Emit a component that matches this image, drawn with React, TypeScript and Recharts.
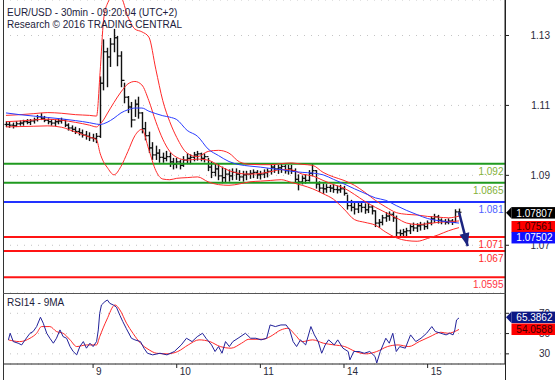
import React from "react";
import {
  ComposedChart,
  Bar,
  Line,
  XAxis,
  YAxis,
  CartesianGrid,
  ReferenceLine,
  ReferenceDot,
} from "recharts";

const FONT = "'Liberation Sans', Arial, sans-serif";

// time axis: hours since Mar 8 00:00, weekend removed
const T_DOMAIN: [number, number] = [-1.85, 142.2];
const dayStarts = [24, 48, 72, 96, 120];
const dayLabels = ["9", "10", "11", "14", "15"];

// hourly EUR/USD bars, first bar at t = -1
const firstHour = -1;
const highs = [
  1.104, 1.1038, 1.1036, 1.104, 1.1042, 1.1044, 1.1046, 1.1046, 1.105, 1.1058,
  1.1063, 1.1055, 1.1048, 1.1046, 1.1045, 1.1048, 1.105, 1.1046, 1.1034, 1.1028,
  1.1024, 1.102, 1.1016, 1.1012, 1.1008, 1.1004, 1.1006, 1.1168, 1.1274, 1.125,
  1.1278, 1.1304, 1.1284, 1.124, 1.115, 1.1112, 1.1095, 1.1102, 1.111, 1.1066,
  1.1038, 1.101, 1.098, 1.097, 1.096, 1.095, 1.0955, 1.095, 1.0935, 1.0935,
  1.093, 1.094, 1.0948, 1.0945, 1.0952, 1.0955, 1.095, 1.0948, 1.0935, 1.0925,
  1.092, 1.0918, 1.091, 1.0905, 1.0902, 1.0905, 1.0905, 1.09, 1.0898, 1.0898,
  1.09, 1.0902, 1.09, 1.0898, 1.0902, 1.0905, 1.0917, 1.092, 1.0915, 1.0918,
  1.0916, 1.0915, 1.0915, 1.0905, 1.0888, 1.0885, 1.0888, 1.09, 1.092, 1.09,
  1.0868, 1.0862, 1.086, 1.0858, 1.086, 1.0856, 1.0858, 1.0855, 1.083, 1.0815,
  1.0808, 1.081, 1.0808, 1.0805, 1.0806, 1.08, 1.0785, 1.076, 1.0772, 1.078,
  1.0782, 1.078, 1.077, 1.073, 1.0732, 1.0735, 1.0745, 1.075, 1.0748, 1.0752,
  1.075, 1.0756, 1.0768, 1.0775, 1.0772, 1.0762, 1.076, 1.0762, 1.076, 1.0788,
  1.079,
];
const lows = [
  1.1026, 1.1024, 1.1022, 1.1026, 1.103, 1.103, 1.1034, 1.1032, 1.1036, 1.1042,
  1.1046, 1.104, 1.1034, 1.103, 1.1028, 1.1034, 1.1036, 1.1026, 1.1016, 1.1012,
  1.1006, 1.1002, 1.0996, 1.099, 1.0986, 1.0984, 1.098, 1.0995, 1.1131, 1.114,
  1.1198, 1.124, 1.12, 1.114, 1.1094, 1.1066, 1.1025, 1.1055, 1.105, 1.1008,
  1.0988, 1.0952, 1.0932, 1.0932, 1.0924, 1.0924, 1.0928, 1.0912, 1.0905, 1.0908,
  1.0905, 1.0912, 1.092, 1.092, 1.0928, 1.093, 1.0928, 1.0925, 1.09, 1.088,
  1.0885, 1.0874, 1.0865, 1.0868, 1.087, 1.0874, 1.0875, 1.0872, 1.087, 1.0874,
  1.0878, 1.088, 1.0878, 1.0876, 1.088, 1.0882, 1.089, 1.0895, 1.0892, 1.0895,
  1.0893, 1.089, 1.0892, 1.0866, 1.0845, 1.0862, 1.0864, 1.087, 1.0885, 1.085,
  1.084, 1.0835, 1.0838, 1.084, 1.0838, 1.0836, 1.0838, 1.083, 1.079, 1.0785,
  1.0776, 1.078, 1.0782, 1.0778, 1.078, 1.0776, 1.074, 1.0738, 1.0745, 1.0755,
  1.0758, 1.0755, 1.0712, 1.071, 1.0712, 1.0714, 1.072, 1.0728, 1.0726, 1.073,
  1.0732, 1.0734, 1.0745, 1.0752, 1.075, 1.0748, 1.0747, 1.0748, 1.0746, 1.0752,
  1.077,
];
const closes = [
  1.1032, 1.103, 1.1028, 1.1034, 1.1036, 1.104, 1.1038, 1.1042, 1.1046, 1.1054,
  1.105, 1.1044, 1.104, 1.1036, 1.104, 1.1042, 1.1044, 1.103, 1.1022, 1.1018,
  1.1012, 1.1008, 1.1002, 1.0998, 1.0994, 1.0992, 1.0998, 1.115, 1.124, 1.1225,
  1.1262, 1.128, 1.1228, 1.1158, 1.111, 1.1082, 1.1045, 1.109, 1.1065, 1.102,
  1.1, 1.0965, 1.0945, 1.095, 1.0938, 1.0935, 1.094, 1.0925, 1.0918, 1.0925,
  1.0915, 1.093, 1.0935, 1.0938, 1.0945, 1.0948, 1.0935, 1.094, 1.091, 1.0895,
  1.0905, 1.0885, 1.088, 1.089, 1.0885, 1.0895, 1.089, 1.0882, 1.0888, 1.089,
  1.0892, 1.0895, 1.0888, 1.089, 1.0894, 1.0898, 1.091, 1.0905, 1.0908, 1.0912,
  1.09, 1.0905, 1.09, 1.0875, 1.0868, 1.0878, 1.0872, 1.0892, 1.09, 1.0862,
  1.085, 1.0848, 1.0852, 1.085, 1.0846, 1.0845, 1.0848, 1.0835, 1.08, 1.0795,
  1.079, 1.08, 1.0795, 1.0788, 1.0796, 1.0785, 1.075, 1.0752, 1.0765, 1.077,
  1.0775, 1.0765, 1.0722, 1.072, 1.0725, 1.0728, 1.074, 1.0736, 1.0742, 1.0745,
  1.074, 1.075, 1.0762, 1.0768, 1.0758, 1.0755, 1.0752, 1.0756, 1.0752, 1.0782,
  1.0781,
];

// Bollinger(20) and moving average, read at these hours
const indT = [
  -1, 3, 7, 11, 15, 19, 23, 25, 26, 27, 28, 30, 32, 34, 36, 38, 40, 42, 44, 46,
  48, 51, 54, 57, 60, 63, 66, 69, 72, 75, 78, 81, 84, 87, 90, 93, 96, 99, 102,
  105, 108, 111, 114, 117, 120, 123, 126, 129,
];
const bbUpper = [
  1.1058, 1.106, 1.1063, 1.1066, 1.1064, 1.106, 1.1058, 1.1056, 1.118, 1.133,
  1.1375, 1.14, 1.1395, 1.134, 1.1305, 1.1297, 1.1282, 1.119, 1.11, 1.104,
  1.0995, 1.095, 1.094, 1.0955, 1.0958, 1.095, 1.0925, 1.0918, 1.0917, 1.0917,
  1.092, 1.0922, 1.0918, 1.0915, 1.0895, 1.0882, 1.0872, 1.0858, 1.0838, 1.0815,
  1.0796, 1.078, 1.0775, 1.0773, 1.0769, 1.0767, 1.0765, 1.077,
];
const bbMid = [
  1.104, 1.1042, 1.1045, 1.1047, 1.1044, 1.1038, 1.103, 1.1025, 1.1033, 1.1045,
  1.1062, 1.1095, 1.1125, 1.1148, 1.1155, 1.1145, 1.11, 1.104, 1.099, 1.0955,
  1.0938, 1.093, 1.0933, 1.093, 1.0915, 1.09, 1.0892, 1.089, 1.0892, 1.0897,
  1.0903, 1.0902, 1.089, 1.0885, 1.0872, 1.086, 1.085, 1.0832, 1.0812, 1.0795,
  1.078, 1.0765, 1.075, 1.0746, 1.0748, 1.0752, 1.0754, 1.0756,
];
const bbLower = [
  1.1025, 1.1026, 1.1027, 1.1028, 1.1024, 1.101, 1.0996, 1.0988, 1.095, 1.0925,
  1.091, 1.0888, 1.0912, 1.0955, 1.1, 1.1018, 1.096, 1.09, 1.0876, 1.0874,
  1.0878, 1.088, 1.0882, 1.0868, 1.086, 1.0858, 1.0862, 1.0868, 1.087, 1.0872,
  1.0874, 1.0866, 1.0858, 1.0848, 1.0834, 1.0818, 1.079, 1.076, 1.0752, 1.0744,
  1.0724, 1.0708, 1.07, 1.0698, 1.0706, 1.0716, 1.0728, 1.0737,
];
const maLine = [
  1.1065, 1.106, 1.1056, 1.1052, 1.1048, 1.1043, 1.1037, 1.1033, 1.1032, 1.1034,
  1.1038, 1.105, 1.1065, 1.1074, 1.1079, 1.1079, 1.107, 1.1063, 1.1057, 1.1053,
  1.1046, 1.1015, 1.0998, 1.0962, 1.0943, 1.0926, 1.0917, 1.0913, 1.091, 1.0906,
  1.0903, 1.0898, 1.0895, 1.0893, 1.0888, 1.0875, 1.0862, 1.0848, 1.0835, 1.0822,
  1.0815, 1.08, 1.0786, 1.0774, 1.0763, 1.0757, 1.0753, 1.075,
];

// forecast arrow
const arrowT = [129, 131.5];
const arrowV = [1.0781, 1.0684];

// support / resistance levels
const levels = [1.092, 1.0865, 1.081, 1.071, 1.067, 1.0595];
const levelColors = ["#1f9a1f", "#1f9a1f", "#2233ff", "#ff1414", "#ff1414", "#ff1414"];
const levelTextColors = ["#84b13a", "#84b13a", "#4f62ff", "#ff2a2a", "#ff2a2a", "#ff3344"];

// last values shown on the price scale
const priceTagValues = [1.07807, 1.07561, 1.07502];
const priceTagLabels = ["1.07807", "1.07561", "1.07502"];

// RSI14 and its 9-period average
const rsiT = [
  -0.3, 0.2, 1.1, 2.5, 3.5, 4.5, 5.9, 6.8, 7.8, 8.9, 9.7, 10.7, 11.6, 12.6, 13.5,
  14.5, 15.4, 16.4, 17.4, 18.3, 19.3, 20.2, 21.2, 22.1, 23.1, 24, 25, 25.5, 25.9,
  26.4, 27.4, 28.1, 28.8, 29.8, 30.7, 31.7, 32.5, 33.5, 35, 36, 37.6, 38.6, 39.6,
  41.1, 43.2, 45.2, 47.3, 49.3, 50.8, 52.4, 53.9, 55.4, 56.4, 58, 59, 60, 61, 62,
  63.1, 64.1, 65.6, 67.7, 69.2, 70.7, 72.2, 73.8, 74.8, 76.3, 77.9, 79.4, 80.4,
  81.4, 82.4, 83.5, 85, 86.5, 87.5, 88.6, 89.6, 90.6, 91.6, 93.2, 94.2, 95.7,
  97.2, 97.7, 98.8, 100.3, 101.8, 103.4, 104.9, 105.4, 106.4, 108, 109, 110, 111,
  112, 113.6, 115.1, 116.6, 118.1, 119.7, 121.2, 122.2, 123.8, 125.3, 126.3,
  127.3, 127.8, 128.3, 129,
];
const rsiValues = [
  43.8, 50.3, 42.1, 40.5, 38.8, 43.8, 50.3, 52, 56.9, 66.1, 60.2, 50.3, 45.4,
  40.5, 45.4, 53.6, 47, 45.4, 37.2, 32.3, 29, 37.2, 42.1, 35.6, 40.5, 37.2, 42.1,
  53.6, 70, 78.2, 81.5, 83.1, 79.8, 78.2, 76, 68, 62, 55.2, 45.4, 43.8, 42.1,
  35.6, 30.6, 29, 30.6, 29, 32.3, 38.8, 45.4, 42.1, 47, 50.3, 45.4, 38.8, 32.3,
  37.2, 30.6, 42.1, 37.2, 42.1, 45.4, 50.3, 45.4, 45.4, 43.8, 45.4, 58.5, 56.9,
  58.5, 58.5, 53.6, 42.1, 37.2, 43.8, 38.8, 56.9, 48.7, 42.1, 30.6, 38.8, 43.8,
  38.8, 43.8, 35.6, 32.3, 24.1, 32.3, 32.3, 30.6, 32.3, 27.4, 21, 32.3, 45.4,
  40.5, 50.3, 32.3, 37.2, 35.6, 48.7, 42.1, 45.4, 50.3, 56.9, 52, 50.3, 48.7,
  50.3, 48.7, 53.6, 63.4, 65.4,
];
const rsiMaT = [
  -0.3, 2.9, 5.9, 7.8, 9.2, 11.6, 13.5, 15.4, 17.4, 19.3, 22.1, 25, 25.9, 27.9,
  30.3, 31.7, 33.6, 35.5, 37.6, 40.1, 42.2, 45.2, 48.3, 51.3, 54.4, 57.5, 60.5,
  63.6, 66.6, 68.7, 72.8, 74.8, 77.9, 79.9, 82, 84, 87, 90.1, 93.2, 96.2, 99.3,
  102.3, 105.4, 108.5, 111.5, 114.6, 117.6, 120.7, 123.8, 125.8, 129,
];
const rsiMaValues = [
  43.8, 42.1, 45.4, 50.3, 56.9, 56.9, 52, 50.3, 43.8, 37.2, 38.8, 38.8, 47, 63.4,
  78.2, 73.3, 60.2, 50, 40.5, 33.9, 30.6, 30, 32.3, 38.8, 43.8, 42.1, 37.2, 35.6,
  40.5, 44.4, 44.4, 47, 53.6, 55.2, 48.7, 42.1, 43.8, 40.5, 38.8, 37.2, 32.3, 30,
  32.3, 37.2, 38.8, 37.2, 42.1, 47, 51.3, 50.3, 54.06,
];
const rsiTagValues = [65.3862, 54.0588];
const rsiTagLabels = ["65.3862", "54.0588"];

const priceTicks = [1.07, 1.09, 1.11, 1.13];
const rsiTicks = [30, 50, 70];
const priceDomain: [number, number] = [1.055, 1.1388];
// the reference prints its price labels a few pixels below the level they name
const priceLabelDomain: [number, number] = [1.05635, 1.14015];
const rsiDomain: [number, number] = [20, 90];

// open = previous close
const bars = highs.map((h, i) => ({
  t: firstHour + i,
  high: h,
  low: lows[i],
  close: closes[i],
  open: i === 0 ? closes[0] : closes[i - 1],
}));
const bandRows = indT.map((t, i) => ({
  t,
  upper: bbUpper[i],
  mid: bbMid[i],
  lower: bbLower[i],
  ma: maLine[i],
}));
const arrowRows = arrowT.map((t, i) => ({ t, v: arrowV[i] }));
const rsiRows = rsiT.map((t, i) => ({ t, v: rsiValues[i] }));
const rsiMaRows = rsiMaT.map((t, i) => ({ t, v: rsiMaValues[i] }));

const LEFT = 3;
const AXIS_W = 53;
const LABEL_RIGHT = 550;
const TEXT = "#2a2a3a";

const OhlcShape = (props: any) => {
  const { x, y, width, height, payload } = props;
  if (x == null || y == null || !payload) return null;
  const { high, low, open, close } = payload;
  const span = high - low || 1e-9;
  const py = (v: number) => y + ((high - v) / span) * height;
  const cx = Math.round(x + width / 2) + 0.5;
  return (
    <g stroke="#111">
      <line x1={cx} x2={cx} y1={y - 0.5} y2={y + height + 0.5} strokeWidth={1.4} />
      <line x1={cx - 2} x2={cx} y1={py(open)} y2={py(open)} strokeWidth={1.2} />
      <line x1={cx} x2={cx + 2} y1={py(close)} y2={py(close)} strokeWidth={1.2} />
    </g>
  );
};

const ArrowDot = (props: any) => {
  const { cx, cy, index } = props;
  if (index !== arrowRows.length - 1) return null;
  // head points along the arrow shaft
  const dx = 0.252;
  const dy = 0.968;
  const bx = cx - dx * 13;
  const by = cy - dy * 13;
  return (
    <polygon
      points={`${cx},${cy} ${bx + dy * 5},${by - dx * 5} ${bx - dy * 5},${by + dx * 5}`}
      fill="#1c2580"
    />
  );
};

const RightTick = (props: any) => {
  const { y, payload } = props;
  return (
    <text x={LABEL_RIGHT} y={y + 3.5} textAnchor="end" fontSize={10} fill={TEXT}>
      {String(payload.value)}
    </text>
  );
};

const DayTick = (props: any) => {
  const { x, y, payload } = props;
  const label = dayLabels[dayStarts.indexOf(payload.value)];
  return (
    <text x={x + 3} y={y + 5} fontSize={10} fill={TEXT}>
      {label}
    </text>
  );
};

const LevelLabel = ({ viewBox, text, color }: any) => (
  <text
    x={viewBox.x + viewBox.width - 1.5}
    y={viewBox.y + 11}
    textAnchor="end"
    fontSize={10}
    fill={color}
  >
    {text}
  </text>
);

const Tag = ({ cx, cy, text, bg, fg, arrow, shift }: any) => {
  const yc = cy + shift;
  const h = 11.5;
  const left = cx + 6.5;
  const right = 555;
  return (
    <g>
      {arrow && (
        <polygon points={`${cx + 1},${yc} ${left},${yc - h / 2} ${left},${yc + h / 2}`} fill={bg} />
      )}
      <rect x={left} y={yc - h / 2} width={right - left} height={h} fill={bg} />
      <text x={right - 2.5} y={yc + 3.7} textAnchor="end" fontSize={10} fill={fg}>
        {text}
      </text>
    </g>
  );
};

const priceTagStyle = [
  { bg: "#000", fg: "#fff", arrow: true, shift: 0.5 },
  { bg: "#ff0000", fg: "#3a0000", arrow: false, shift: 5.8 },
  { bg: "#1010ff", fg: "#fff", arrow: false, shift: 14.7 },
];
const rsiTagStyle = [
  { bg: "#0c1784", fg: "#fff", arrow: true, shift: -0.6 },
  { bg: "#ff0000", fg: "#3a0000", arrow: false, shift: -0.2 },
];

const layer = (top: number): React.CSSProperties => ({ position: "absolute", left: 0, top });

export default function App() {
  return (
    <div
      style={{
        position: "absolute",
        left: 0,
        top: 0,
        width: 558,
        height: 380,
        background: "#fff",
        fontFamily: FONT,
      }}
    >
      {/* price panel */}
      <div style={layer(0)}>
        <ComposedChart
          width={558}
          height={293}
          data={bars}
          margin={{ top: 0, right: 0, bottom: 0, left: LEFT }}
        >
          <CartesianGrid vertical={false} stroke="#c4c4c4" strokeDasharray="1 6" />
          <XAxis dataKey="t" type="number" domain={T_DOMAIN} allowDataOverflow hide />
          <YAxis
            orientation="right"
            width={AXIS_W}
            domain={priceLabelDomain}
            ticks={priceTicks}
            interval={0}
            allowDataOverflow
            tickSize={4}
            axisLine={{ stroke: "#222" }}
            tickLine={{ stroke: "#222" }}
            tick={<RightTick />}
          />
          <YAxis yAxisId="price" hide domain={priceDomain} allowDataOverflow />
          {levels.map((v, i) => (
            <ReferenceLine
              key={v}
              yAxisId="price"
              y={v}
              stroke={levelColors[i]}
              strokeWidth={2}
              label={(p: any) => (
                <LevelLabel {...p} text={String(v)} color={levelTextColors[i]} />
              )}
            />
          ))}
          <Line data={bandRows} yAxisId="price" dataKey="upper" type="monotone" stroke="#ff2a2a" strokeWidth={1} dot={false} isAnimationActive={false} />
          <Line data={bandRows} yAxisId="price" dataKey="lower" type="monotone" stroke="#ff2a2a" strokeWidth={1} dot={false} isAnimationActive={false} />
          <Line data={bandRows} yAxisId="price" dataKey="mid" type="monotone" stroke="#ff2a2a" strokeWidth={1} dot={false} isAnimationActive={false} />
          <Line data={bandRows} yAxisId="price" dataKey="ma" type="monotone" stroke="#2a3cff" strokeWidth={1} dot={false} isAnimationActive={false} />
          <Bar
            yAxisId="price"
            dataKey={(d: any) => [d.low, d.high]}
            barSize={3}
            shape={OhlcShape}
            isAnimationActive={false}
          />
          <Line
            data={arrowRows}
            yAxisId="price"
            dataKey="v"
            stroke="#1c2580"
            strokeWidth={2.5}
            dot={<ArrowDot />}
            isAnimationActive={false}
          />
        </ComposedChart>
      </div>

      {/* price tags drawn above the axis labels */}
      <div style={layer(0)}>
        <ComposedChart
          width={558}
          height={293}
          data={bars}
          margin={{ top: 0, right: AXIS_W, bottom: 0, left: LEFT }}
        >
          <XAxis dataKey="t" type="number" domain={T_DOMAIN} allowDataOverflow hide />
          <YAxis yAxisId="price" hide domain={priceDomain} allowDataOverflow />
          {priceTagValues.map((v, i) => (
            <ReferenceDot
              key={v}
              yAxisId="price"
              x={T_DOMAIN[1]}
              y={v}
              r={0}
              ifOverflow="visible"
              shape={(p: any) => <Tag {...p} {...priceTagStyle[i]} text={priceTagLabels[i]} />}
            />
          ))}
        </ComposedChart>
      </div>

      {/* RSI panel */}
      <div style={layer(293)}>
        <ComposedChart
          width={558}
          height={87}
          margin={{ top: 0, right: 0, bottom: 0, left: LEFT }}
        >
          <CartesianGrid vertical={false} stroke="#c4c4c4" strokeDasharray="1 6" />
          <XAxis
            dataKey="t"
            type="number"
            domain={T_DOMAIN}
            allowDataOverflow
            ticks={dayStarts}
            interval={0}
            height={16}
            tickSize={4}
            axisLine={{ stroke: "#222" }}
            tickLine={{ stroke: "#222" }}
            tick={<DayTick />}
          />
          <YAxis
            orientation="right"
            width={AXIS_W}
            domain={rsiDomain}
            ticks={rsiTicks}
            interval={0}
            allowDataOverflow
            tickSize={4}
            axisLine={{ stroke: "#222" }}
            tickLine={{ stroke: "#222" }}
            tick={<RightTick />}
          />
          <Line data={rsiMaRows} dataKey="v" type="monotone" stroke="#ff2a2a" strokeWidth={1} dot={false} isAnimationActive={false} />
          <Line data={rsiRows} dataKey="v" type="linear" stroke="#22229a" strokeWidth={1} dot={false} isAnimationActive={false} />
        </ComposedChart>
      </div>

      {/* RSI tags */}
      <div style={layer(293)}>
        <ComposedChart
          width={558}
          height={87}
          data={rsiRows}
          margin={{ top: 0, right: AXIS_W, bottom: 16, left: LEFT }}
        >
          <XAxis dataKey="t" type="number" domain={T_DOMAIN} allowDataOverflow hide />
          <YAxis hide domain={rsiDomain} allowDataOverflow />
          {rsiTagValues.map((v, i) => (
            <ReferenceDot
              key={v}
              x={T_DOMAIN[1]}
              y={v}
              r={0}
              ifOverflow="visible"
              shape={(p: any) => <Tag {...p} {...rsiTagStyle[i]} text={rsiTagLabels[i]} />}
            />
          ))}
        </ComposedChart>
      </div>

      <svg
        width={558}
        height={380}
        style={{ position: "absolute", left: 0, top: 0, pointerEvents: "none" }}
      >
        <line x1={3.5} x2={3.5} y1={0} y2={380} stroke="#333" />
        <line x1={505.5} x2={505.5} y1={0} y2={380} stroke="#222" />
        <line x1={3} x2={505.5} y1={293.5} y2={293.5} stroke="#555" />
        <text x={7} y={15.5} fontSize={10} fill="#1c1c3c">
          EUR/USD - 30min - 09:20:04 (UTC+2)
        </text>
        <text x={7} y={27.5} fontSize={10} fill="#1c1c3c">
          Research © 2016 TRADING CENTRAL
        </text>
        <text x={7} y={305.5} fontSize={10} fill="#1c1c3c">
          RSI14 - 9MA
        </text>
      </svg>
    </div>
  );
}
